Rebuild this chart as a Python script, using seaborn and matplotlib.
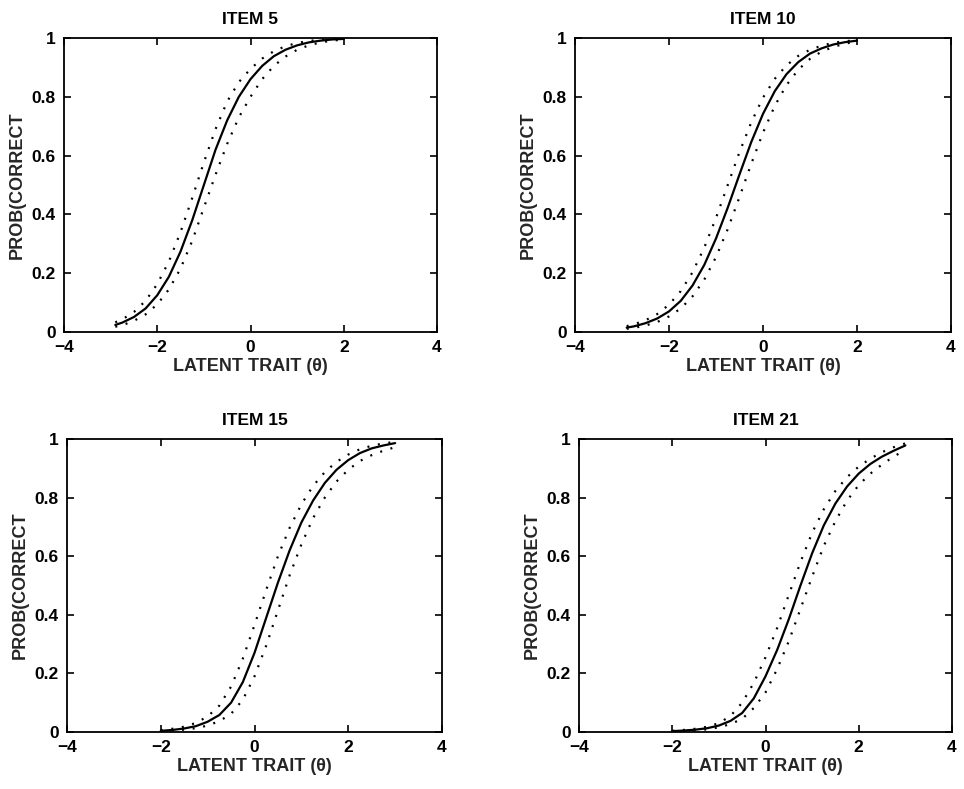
import numpy as np
import pandas as pd
import matplotlib
matplotlib.use("Agg")
import matplotlib.pyplot as plt
import seaborn as sns

# ---------------- data ----------------
titles = ["ITEM 5", "ITEM 10", "ITEM 15", "ITEM 21"]

theta_a = [-2.9, -2.75, -2.5, -2.25, -2.0, -1.75, -1.5, -1.25, -1.0, -0.75, -0.5,
           -0.25, 0.0, 0.25, 0.5, 0.75, 1.0, 1.25, 1.5, 1.75, 2.0]
theta_b = [-2.0, -1.75, -1.5, -1.25, -1.0, -0.75, -0.5, -0.25, 0.0, 0.25, 0.5,
           0.75, 1.0, 1.25, 1.5, 1.75, 2.0, 2.25, 2.5, 2.75, 3.0]

item5_est = [0.024, 0.032, 0.051, 0.080, 0.125, 0.188, 0.274, 0.380, 0.500, 0.620, 0.720,
             0.800, 0.860, 0.905, 0.938, 0.960, 0.975, 0.985, 0.991, 0.995, 0.997]
item5_hi = [0.033, 0.043, 0.068, 0.106, 0.163, 0.240, 0.340, 0.456, 0.577, 0.690, 0.784,
            0.850, 0.895, 0.930, 0.955, 0.972, 0.983, 0.990, 0.994, 0.997, 0.998]
item5_lo = [0.018, 0.023, 0.038, 0.060, 0.094, 0.145, 0.216, 0.310, 0.423, 0.535, 0.640,
            0.730, 0.800, 0.860, 0.905, 0.937, 0.960, 0.975, 0.985, 0.991, 0.995]

item10_est = [0.015, 0.019, 0.030, 0.046, 0.070, 0.106, 0.158, 0.228, 0.318, 0.423, 0.536,
              0.646, 0.742, 0.819, 0.877, 0.918, 0.947, 0.965, 0.978, 0.986, 0.991]
item10_hi = [0.020, 0.026, 0.040, 0.061, 0.093, 0.139, 0.203, 0.287, 0.388, 0.500, 0.612,
             0.713, 0.797, 0.861, 0.907, 0.939, 0.960, 0.974, 0.984, 0.989, 0.993]
item10_lo = [0.011, 0.014, 0.022, 0.034, 0.053, 0.080, 0.121, 0.178, 0.255, 0.350, 0.459,
             0.572, 0.678, 0.769, 0.840, 0.892, 0.929, 0.954, 0.970, 0.981, 0.988]

item15_est = [0.004, 0.007, 0.012, 0.020, 0.035, 0.058, 0.100, 0.170, 0.270, 0.390, 0.510,
              0.620, 0.715, 0.790, 0.850, 0.895, 0.928, 0.952, 0.968, 0.978, 0.986]
item15_hi = [0.006, 0.011, 0.018, 0.031, 0.053, 0.090, 0.155, 0.250, 0.365, 0.485, 0.600,
             0.697, 0.777, 0.840, 0.887, 0.922, 0.947, 0.965, 0.977, 0.985, 0.990]
item15_lo = [0.003, 0.005, 0.008, 0.013, 0.022, 0.037, 0.062, 0.110, 0.190, 0.295, 0.415,
             0.535, 0.640, 0.730, 0.800, 0.855, 0.895, 0.925, 0.945, 0.960, 0.972]

item21_est = [0.003, 0.005, 0.008, 0.013, 0.022, 0.038, 0.065, 0.115, 0.190, 0.280, 0.385,
              0.500, 0.610, 0.705, 0.780, 0.838, 0.882, 0.915, 0.940, 0.960, 0.978]
item21_hi = [0.004, 0.007, 0.011, 0.018, 0.030, 0.055, 0.100, 0.168, 0.255, 0.355, 0.468,
             0.580, 0.680, 0.760, 0.823, 0.870, 0.906, 0.933, 0.955, 0.972, 0.985]
item21_lo = [0.002, 0.003, 0.006, 0.009, 0.016, 0.027, 0.045, 0.082, 0.135, 0.215, 0.310,
             0.420, 0.530, 0.635, 0.720, 0.790, 0.843, 0.882, 0.913, 0.940, 0.963]

x_ticks = [-4, -2, 0, 2, 4]
y_ticks = [0, 0.2, 0.4, 0.6, 0.8, 1]
y_ticklabels = ["0", "0.2", "0.4", "0.6", "0.8", "1"]
x_label = "LATENT TRAIT (\u03b8)"
y_label = "PROB(CORRECT"

panels = [
    (theta_a, item5_est, item5_hi, item5_lo),
    (theta_a, item10_est, item10_hi, item10_lo),
    (theta_b, item15_est, item15_hi, item15_lo),
    (theta_b, item21_est, item21_hi, item21_lo),
]

# ---------------- style ----------------
sns.set_theme(style="white")
plt.rcParams["font.family"] = ["Liberation Sans", "DejaVu Sans"]
plt.rcParams["axes.edgecolor"] = "black"
plt.rcParams["text.color"] = "black"

fig = plt.figure(figsize=(9.64, 7.89), dpi=100)
positions = [
    [64 / 964, 1 - 332 / 789, 373 / 964, 294 / 789],
    [575 / 964, 1 - 332 / 789, 376 / 964, 294 / 789],
    [67 / 964, 1 - 732 / 789, 375 / 964, 293 / 789],
    [579 / 964, 1 - 732 / 789, 373 / 964, 293 / 789],
]

fs = 12.5
for pos, title, (th, est, hi, lo) in zip(positions, titles, panels):
    ax = fig.add_axes(pos)
    df = pd.DataFrame({"theta": th, "est": est, "hi": hi, "lo": lo})
    sns.lineplot(data=df, x="theta", y="hi", ax=ax, color="black",
                 linewidth=1.6, linestyle=(0, (0.9, 3.9)), estimator=None)
    sns.lineplot(data=df, x="theta", y="lo", ax=ax, color="black",
                 linewidth=1.6, linestyle=(0, (0.9, 3.9)), estimator=None)
    sns.lineplot(data=df, x="theta", y="est", ax=ax, color="black",
                 linewidth=1.6, estimator=None)
    ax.set_xlim(-4, 4)
    ax.set_ylim(0, 1)
    ax.set_xticks(x_ticks)
    ax.set_yticks(y_ticks)
    ax.set_yticklabels(y_ticklabels)
    ax.tick_params(direction="in", length=5, width=1.2, top=True, right=True,
                   bottom=True, left=True, labelsize=fs, pad=6, colors="black")
    for lab in ax.get_xticklabels() + ax.get_yticklabels():
        lab.set_fontweight("bold")
    for sp in ax.spines.values():
        sp.set_visible(True)
        sp.set_linewidth(1.3)
        sp.set_color("black")
    ax.set_xlabel(x_label, fontsize=fs + 0.5, fontweight="bold", labelpad=2)
    ax.set_ylabel(y_label, fontsize=fs + 0.5, fontweight="bold", labelpad=4)
    ax.set_title(title, fontsize=fs, fontweight="bold", pad=10)

fig.savefig("out.png", dpi=100)
